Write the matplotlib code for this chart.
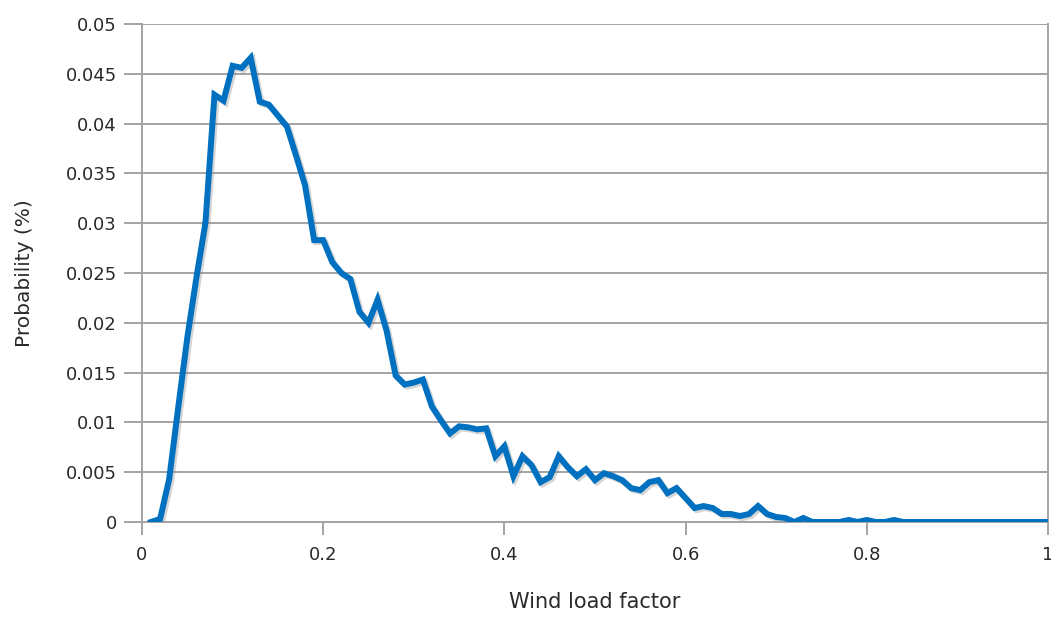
import numpy as np
import matplotlib
matplotlib.use("Agg")
from matplotlib import pyplot as plt
import matplotlib.patheffects as pe

plt.rcParams['font.family'] = ['DejaVu Sans']

# wind load factor bins (0.01 .. 1.00)
factor = np.round(np.arange(1, 101) * 0.01, 2)

# probability
prob = [
    0.0000, 0.0003, 0.0043, 0.0115, 0.0185, 0.0245, 0.0300, 0.0429, 0.0423, 0.0458,
    0.0456, 0.0466, 0.0422, 0.0419, 0.0408, 0.0397, 0.0368, 0.0338, 0.0283, 0.0283,
    0.0261, 0.0250, 0.0244, 0.0211, 0.0200, 0.0223, 0.0192, 0.0147, 0.0138, 0.0140,
    0.0143, 0.0116, 0.0102, 0.0089, 0.0096, 0.0095, 0.0093, 0.0094, 0.0066, 0.0076,
    0.0046, 0.0066, 0.0057, 0.0040, 0.0045, 0.0066, 0.0055, 0.0046, 0.0053, 0.0042,
    0.0049, 0.0046, 0.0042, 0.0034, 0.0032, 0.0040, 0.0042, 0.0029, 0.0034, 0.0024,
    0.0014, 0.0016, 0.0014, 0.0008, 0.0008, 0.0006, 0.0008, 0.0016, 0.0008, 0.0005,
    0.0004, 0.0000, 0.0004, 0.0000, 0.0000, 0.0000, 0.0000, 0.0002, 0.0000, 0.0002,
    0.0000, 0.0000, 0.0002, 0.0000, 0.0000, 0.0000, 0.0000, 0.0000, 0.0000, 0.0000,
    0.0000, 0.0000, 0.0000, 0.0000, 0.0000, 0.0000, 0.0000, 0.0000, 0.0000, 0.0000,
]

yticks = [0, 0.005, 0.01, 0.015, 0.02, 0.025, 0.03, 0.035, 0.04, 0.045, 0.05]
ylabels = ["0", "0.005", "0.01", "0.015", "0.02", "0.025", "0.03", "0.035", "0.04", "0.045", "0.05"]
xticks = [0, 0.2, 0.4, 0.6, 0.8, 1]
xlabels = ["0", "0.2", "0.4", "0.6", "0.8", "1"]

grey = "#a3a3a3"
txt = "#2a2a2a"

fig = plt.figure(figsize=(10.51, 6.22), dpi=100)
ax = fig.add_axes([0.1351, 0.1608, 0.8620, 0.8006])

ax.plot(factor, prob, color="#0070c0", lw=4.3, solid_joinstyle="miter", zorder=3,
        path_effects=[pe.SimpleLineShadow(offset=(1.5, -1.5), shadow_color="#888888", alpha=0.35),
                      pe.Normal()])

ax.set_xlim(0, 1)
ax.set_ylim(0, 0.05)
ax.set_yticks(yticks)
ax.set_yticklabels(ylabels)
ax.set_xticks(xticks)
ax.set_xticklabels(xlabels)

ax.grid(axis="y", color=grey, lw=1.4)
ax.set_axisbelow(True)
for side in ["left", "bottom", "right"]:
    ax.spines[side].set_color(grey)
    ax.spines[side].set_linewidth(1.4)
ax.spines["top"].set_visible(False)

ax.tick_params(axis="y", length=13, width=1.4, color=grey, pad=5, labelsize=13, labelcolor=txt)
ax.tick_params(axis="x", length=9.5, width=1.4, color=grey, pad=8, labelsize=13, labelcolor=txt)

ax.set_xlabel("Wind load factor", fontsize=15, color=txt, labelpad=20)
ax.set_ylabel("Probability (%)", fontsize=14.5, color=txt, labelpad=23)

fig.savefig("out.png", dpi=100)
